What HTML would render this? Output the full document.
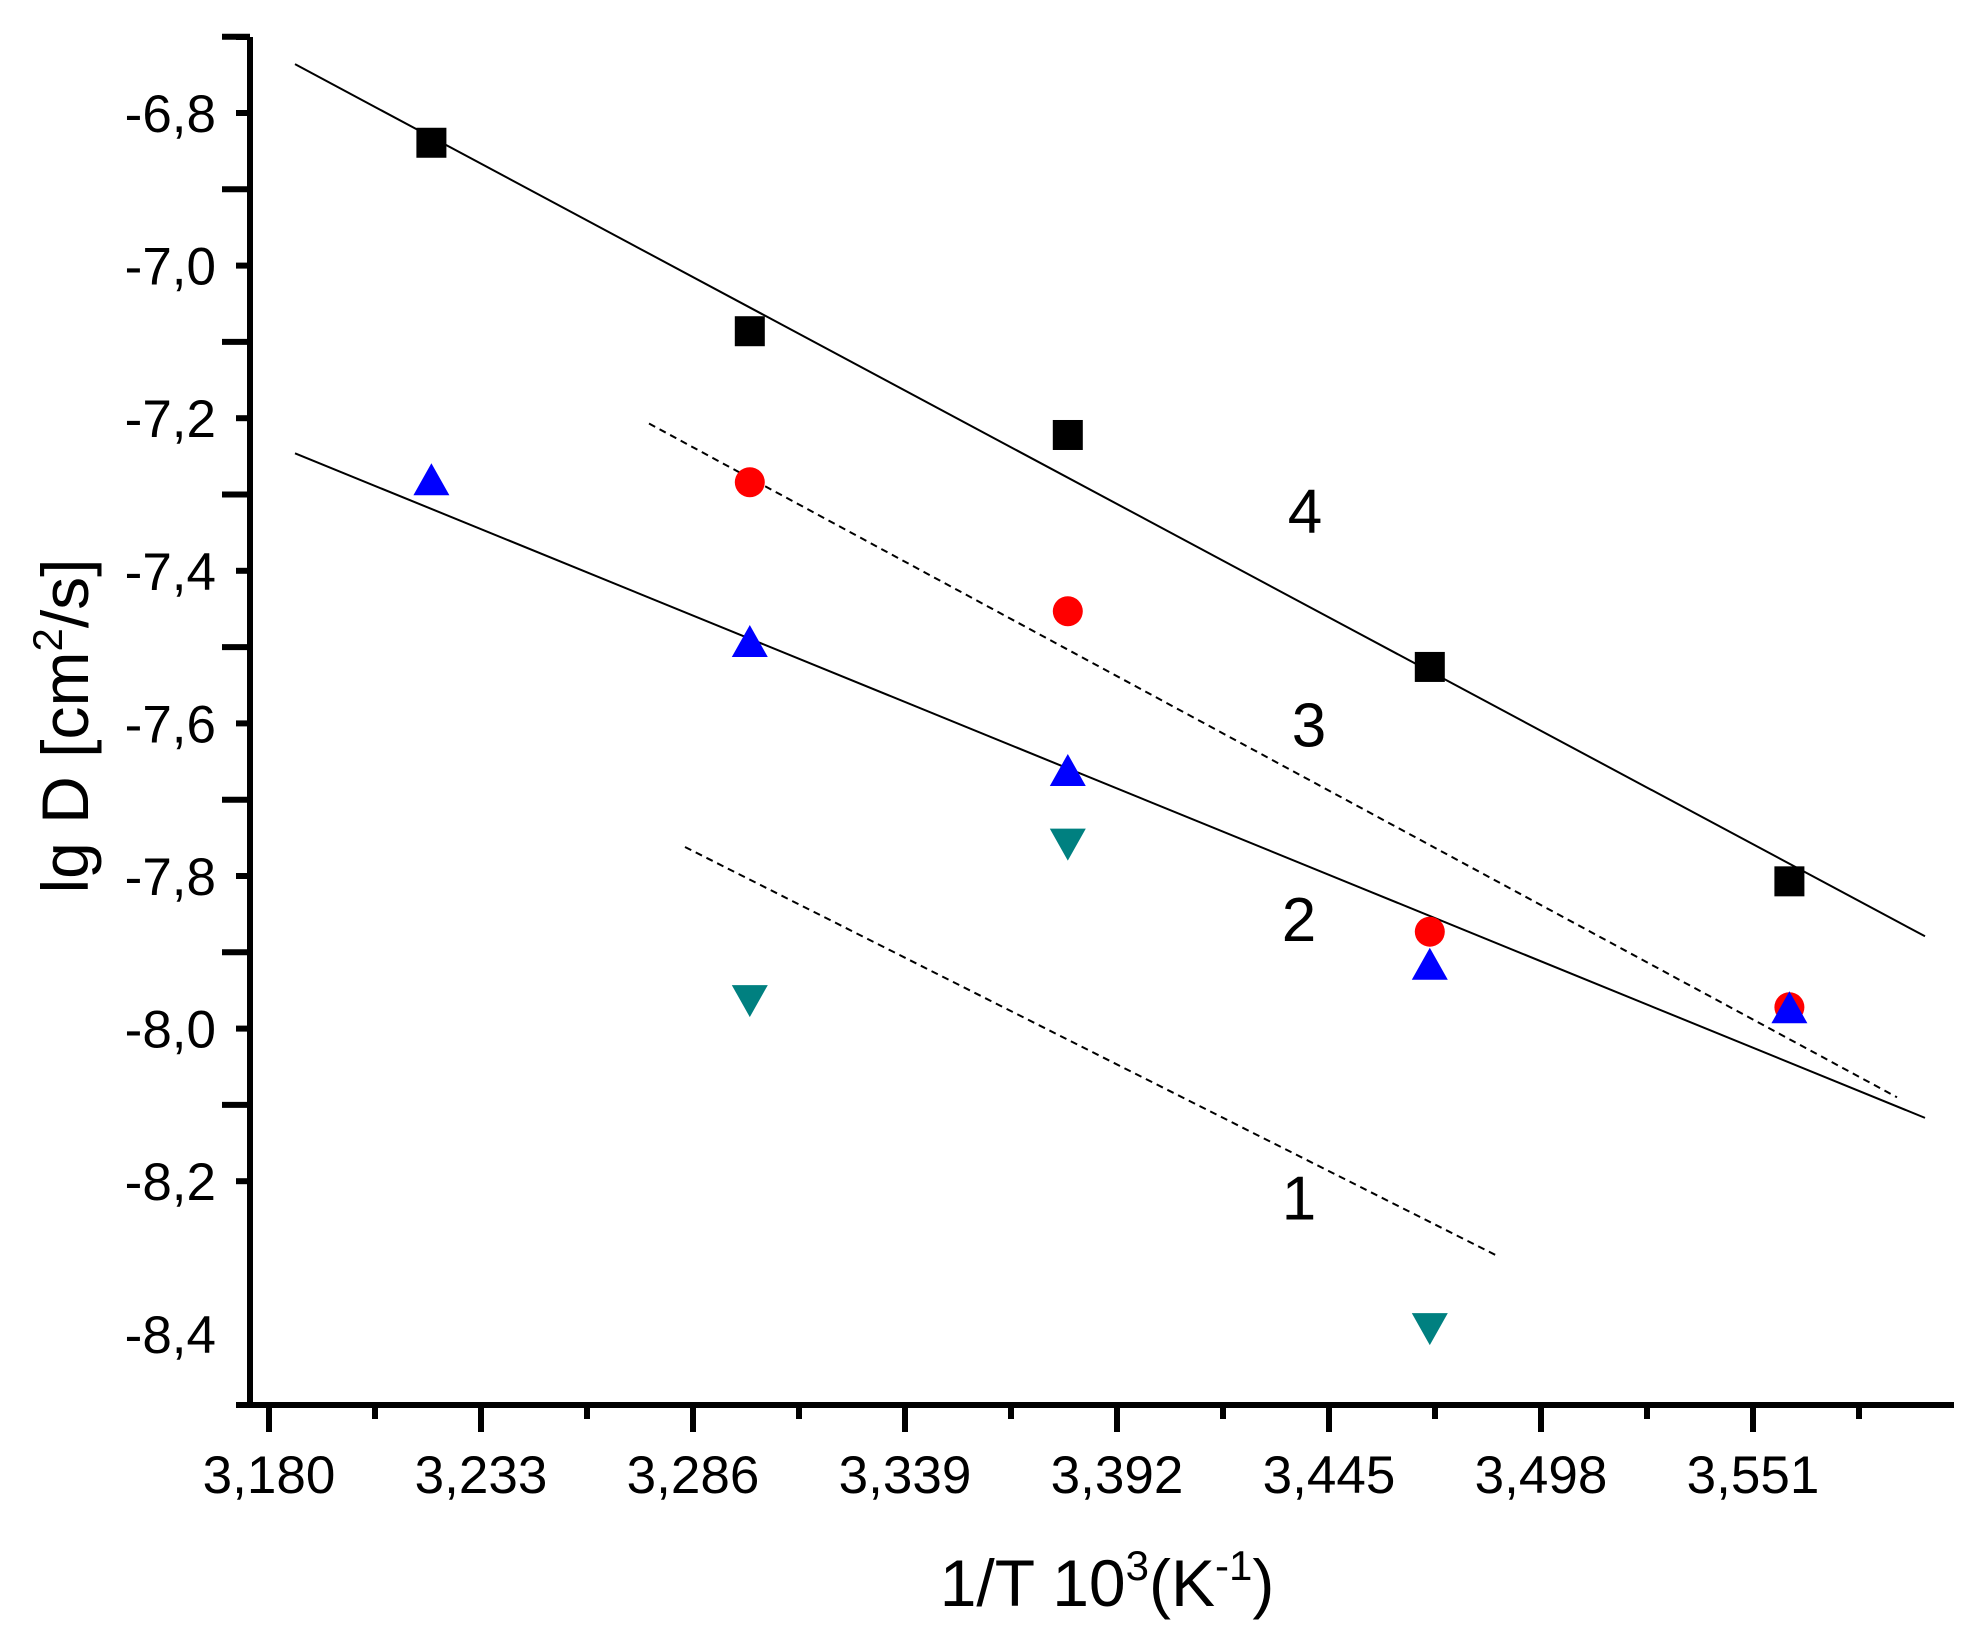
<!DOCTYPE html>
<html><head><meta charset="utf-8"><style>
body{margin:0;background:#fff}
svg{display:block;font-family:"Liberation Sans",Arial,sans-serif}
</style></head><body>
<svg id="c" width="1986" height="1644" viewBox="0 0 1986 1644"></svg>
<script>
const xTicks=[3.180,3.233,3.286,3.339,3.392,3.445,3.498,3.551];
const yTicks=[-6.8,-7.0,-7.2,-7.4,-7.6,-7.8,-8.0,-8.2,-8.4];
const xVals=[3.2206,3.3002,3.3797,3.4702,3.5601];
const s4=[-6.839,-7.086,-7.222,-7.526,-7.807];
const s3x=[3.3002,3.3797,3.4702,3.5601];
const s3=[-7.284,-7.453,-7.873,-7.972];
const s2=[-7.284,-7.496,-7.665,-7.919,-7.976];
const s1x=[3.3002,3.3797,3.4702];
const s1=[-7.960,-7.755,-8.390];
const fit4=[[3.1865,-6.736],[3.594,-7.879]];
const fit3=[[3.275,-7.207],[3.587,-8.090]];
const fit2=[[3.1865,-7.246],[3.594,-8.117]];
const fit1=[[3.284,-7.762],[3.4875,-8.299]];
const labels=[["4",3.439,-7.35],["3",3.440,-7.63],["2",3.4375,-7.885],["1",3.4375,-8.25]];
const X=v=>269+(v-3.180)*4000;
const Y=v=>113+(-6.8-v)*763;
const svg=document.getElementById('c');
const NS='http://www.w3.org/2000/svg';
function mk(t,a,p){const e=document.createElementNS(NS,t);for(const k in a)e.setAttribute(k,a[k]);(p||svg).appendChild(e);return e;}
let e=mk('line',{x1:250,y1:37,x2:250,y2:1407,stroke:'#000','stroke-width':6});


e=mk('line',{x1:236,y1:1405,x2:1954,y2:1405,stroke:'#000','stroke-width':6});


mk('line',{x1:236,y1:37,x2:250,y2:37,stroke:'#000','stroke-width':6});
for(let i=0;i<16;i++){const v=-6.7-i*0.1;const y=Y(v);const major=Math.abs((v*10)%2)>0.5;
 mk('line',{x1:major?222:236,y1:y,x2:250,y2:y,stroke:'#000','stroke-width':6});}
yTicks.forEach(v=>{const t=mk('text',{x:216,y:Y(v)+19,'text-anchor':'end','font-size':53});t.textContent=v.toFixed(1).replace('.',',');
 
 });
for(let i=0;i<16;i++){const v=3.180+i*0.0265;const x=X(v);if(x>1950)break;
 mk('line',{x1:x,y1:1405,x2:x,y2:i%2==0?1432:1419,stroke:'#000','stroke-width':6});}
xTicks.forEach(v=>{const t=mk('text',{x:X(v),y:1493,'text-anchor':'middle','font-size':53});t.textContent=v.toFixed(3).replace('.',',');
 
 });
[[fit4,''],[fit2,''],[fit3,'7,5'],[fit1,'7,5']].forEach((f,i)=>{const l=mk('line',{x1:X(f[0][0][0]),y1:Y(f[0][0][1]),x2:X(f[0][1][0]),y2:Y(f[0][1][1]),stroke:'#000','stroke-width':2,'stroke-dasharray':f[1]});
 
 });
xVals.forEach((x,i)=>{const r=mk('rect',{x:X(x)-15,y:Y(s4[i])-15,width:30,height:30,fill:'#000'});
 
 });
s3x.forEach((x,i)=>{const c=mk('circle',{cx:X(x),cy:Y(s3[i]),r:15,fill:'#ff0000'});
 
 });
xVals.forEach((x,i)=>{const cx=X(x),cy=Y(s2[i]);const p=mk('polygon',{points:`${cx},${cy-19} ${cx-18},${cy+13} ${cx+18},${cy+13}`,fill:'#0000ff'});
 
 });
s1x.forEach((x,i)=>{const cx=X(x),cy=Y(s1[i]);const p=mk('polygon',{points:`${cx-18},${cy-13} ${cx+18},${cy-13} ${cx},${cy+19}`,fill:'#008080'});
 
 });
labels.forEach(l=>{const t=mk('text',{x:X(l[1]),y:Y(l[2]),'text-anchor':'middle','font-size':62});t.textContent=l[0];
 
 });
let t=mk('text',{x:1107,y:1606,'text-anchor':'middle','font-size':66});
t.innerHTML='1/T 10<tspan font-size="42" dy="-26">3</tspan><tspan dy="26">(K</tspan><tspan font-size="42" dy="-26">-1</tspan><tspan dy="26">)</tspan>';


t=mk('text',{x:0,y:0,'text-anchor':'middle','font-size':66,transform:'translate(88,726) rotate(-90)'});
t.innerHTML='lg D [cm<tspan font-size="42" dy="-26">2</tspan><tspan dy="26">/s]</tspan>';


</script>
</body></html>
